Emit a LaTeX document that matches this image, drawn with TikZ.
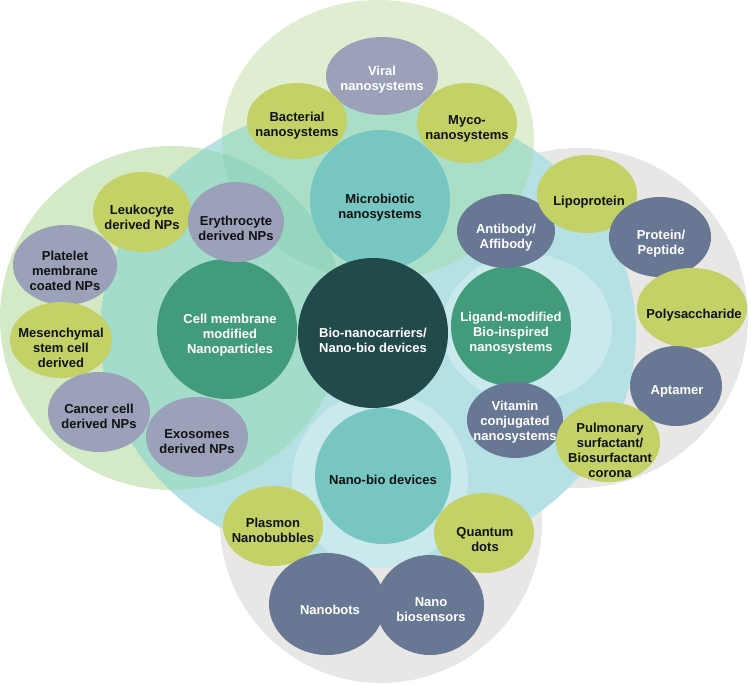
\documentclass[tikz,border=0pt]{standalone}
\usepackage{fontspec}
\setmainfont{Liberation Sans}
\usetikzlibrary{shapes.geometric}
\definecolor{grayc}{HTML}{E8E7E6}
\definecolor{cyanc}{HTML}{B5E1E5}
\definecolor{haloc}{HTML}{CAE9EC}
\definecolor{greenL}{HTML}{D4EAC6}
\definecolor{greenT}{HTML}{DFEED1}
\definecolor{greenLC}{HTML}{A3DCCB}
\definecolor{greenTC}{HTML}{ABDEC6}
\definecolor{greenLTC}{HTML}{97D6BE}
\definecolor{tealc}{HTML}{78C6C2}
\definecolor{greenc}{HTML}{429B7B}
\definecolor{darkc}{HTML}{234A4B}
\definecolor{olivec}{HTML}{C3D167}
\definecolor{lilacc}{HTML}{9AA1B9}
\definecolor{slatec}{HTML}{687894}
\definecolor{inkc}{HTML}{111111}
\begin{document}
\begin{tikzpicture}[x=1pt,y=-1pt,
  lbl/.style={font=\fontsize{13}{15}\selectfont\bfseries, align=center, inner sep=0pt},
  wl/.style={lbl, text=white},
  bl/.style={lbl, text=inkc},
  blob/.style n args={3}{ellipse, inner sep=0pt, draw=none, fill=#1, minimum width=#2pt, minimum height=#3pt},
  disc/.style n args={2}{circle, inner sep=0pt, draw=none, fill=#1, minimum size=#2pt}]
\useasboundingbox (0,0) rectangle (751,685);
% outer group circles
\fill[grayc] (578,318) circle [radius=170pt];
\fill[grayc] (381,522) circle [radius=161pt];
\fill[cyanc] (368,333) ellipse [x radius=268pt, y radius=233pt];
\fill[greenL] (172,318) circle [radius=172pt];
\fill[greenT] (378,140) ellipse [x radius=156pt, y radius=140pt];
\begin{scope}
  \clip (368,333) ellipse [x radius=268pt, y radius=233pt];
  \fill[greenLC] (172,318) circle [radius=172pt];
  \fill[greenTC] (378,140) ellipse [x radius=156pt, y radius=140pt];
  \clip (172,318) circle [radius=172pt];
  \fill[greenLTC] (378,140) ellipse [x radius=156pt, y radius=140pt];
\end{scope}
% halos
\fill[haloc] (527,328) ellipse [x radius=85pt, y radius=74pt];
\fill[haloc] (380,480) circle [radius=88pt];
% main circles
\node[disc={tealc}{140}] (micro) at (380,200) {};
\node[disc={greenc}{140}] (cell) at (227,329) {};
\node[disc={greenc}{120}] (lig) at (511,326) {};
\node[disc={tealc}{136}] (nbd) at (383,476) {};
\node[disc={darkc}{150}] (core) at (373,333) {};
\node[bl] (micro-t) at (380,208) {Microbiotic\\nanosystems};
\node[wl] (cell-t) at (230,335) {Cell membrane\\modified\\Nanoparticles};
\node[wl] (lig-t) at (511,333) {Ligand-modified\\Bio-inspired\\nanosystems};
\node[bl] (nbd-t) at (383,480) {Nano-bio devices};
\node[wl] (core-t) at (373,340) {Bio-nanocarriers/\\Nano-bio devices};
% small ellipses
\node[blob={lilacc}{112}{78}] (viral) at (382,76) {};
\node[blob={olivec}{100}{76}] (bact) at (297,121) {};
\node[blob={olivec}{100}{80}] (myco) at (467,123) {};
\node[blob={olivec}{98}{80}] (leuko) at (142,212) {};
\node[blob={lilacc}{96}{80}] (eryth) at (236,222) {};
\node[blob={lilacc}{104}{80}] (plate) at (65,265) {};
\node[blob={olivec}{102}{76}] (mesen) at (61,340) {};
\node[blob={lilacc}{102}{80}] (cancer) at (99,412) {};
\node[blob={lilacc}{102}{80}] (exo) at (197,437) {};
\node[blob={slatec}{98}{74}] (anti) at (506,231) {};
\node[blob={olivec}{100}{78}] (lipo) at (587,194) {};
\node[blob={slatec}{102}{80}] (prot) at (660,237) {};
\node[blob={olivec}{110}{80}] (poly) at (692,308) {};
\node[blob={slatec}{92}{80}] (apt) at (676,386) {};
\node[blob={slatec}{96}{76}] (vit) at (515,420) {};
\node[blob={olivec}{104}{80}] (pulm) at (608,442) {};
\node[blob={olivec}{100}{80}] (plas) at (273,526) {};
\node[blob={olivec}{100}{80}] (quant) at (484,533) {};
\node[blob={slatec}{116}{102}] (bots) at (327,604) {};
\node[blob={slatec}{108}{100}] (bios) at (430,605) {};
\node[wl] (viral-t) at (382,80) {Viral\\nanosystems};
\node[bl] (bact-t) at (297,126) {Bacterial\\nanosystems};
\node[bl] (myco-t) at (467,129) {Myco-\\nanosystems};
\node[bl] (leuko-t) at (142,217) {Leukocyte\\derived NPs};
\node[bl] (eryth-t) at (236,228) {Erythrocyte\\derived NPs};
\node[bl] (plate-t) at (65,271) {Platelet\\membrane\\coated NPs};
\node[bl] (mesen-t) at (61,348) {Mesenchymal\\stem cell\\derived};
\node[bl] (cancer-t) at (99,416) {Cancer cell\\derived NPs};
\node[bl] (exo-t) at (197,442) {Exosomes\\derived NPs};
\node[wl] (anti-t) at (506,238) {Antibody/\\Affibody};
\node[bl] (lipo-t) at (589,202) {Lipoprotein};
\node[wl] (prot-t) at (661,244) {Protein/\\Peptide};
\node[bl] (poly-t) at (694,315) {Polysaccharide};
\node[wl] (apt-t) at (677,391) {Aptamer};
\node[wl] (vit-t) at (515,422) {Vitamin\\conjugated\\nanosystems};
\node[bl] (pulm-t) at (610,450) {Pulmonary\\surfactant/\\Biosurfactant\\corona};
\node[bl] (plas-t) at (273,530) {Plasmon\\Nanobubbles};
\node[bl] (quant-t) at (485,540) {Quantum\\dots};
\node[wl] (bots-t) at (330,610) {Nanobots};
\node[wl] (bios-t) at (431,610) {Nano\\biosensors};
\end{tikzpicture}
\end{document}
